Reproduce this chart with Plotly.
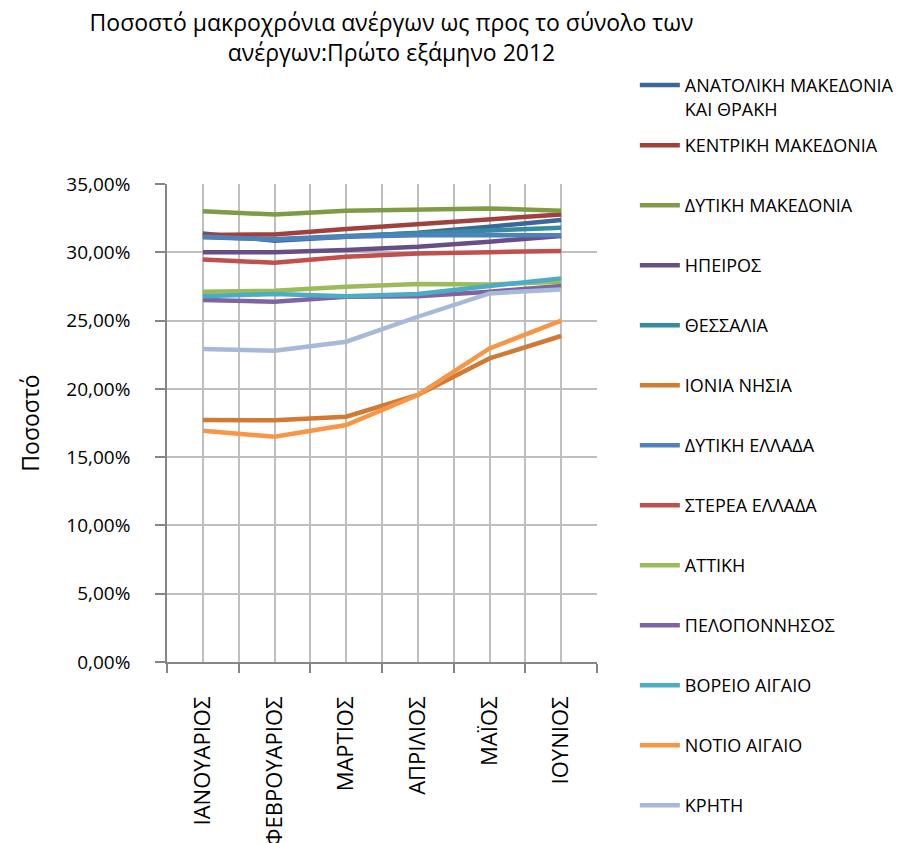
import plotly.graph_objects as go

months = ["ΙΑΝΟΥΑΡΙΟΣ", "ΦΕΒΡΟΥΑΡΙΟΣ", "ΜΑΡΤΙΟΣ", "ΑΠΡΙΛΙΟΣ", "ΜΑΪΟΣ", "ΙΟΥΝΙΟΣ"]

anatoliki_makedonia = [31.38, 30.85, 31.14, 31.43, 31.87, 32.36]
kentriki_makedonia = [31.26, 31.31, 31.70, 32.04, 32.40, 32.77]
dytiki_makedonia = [33.00, 32.77, 33.04, 33.16, 33.21, 33.04]
ipeiros = [30.00, 30.00, 30.16, 30.40, 30.77, 31.20]
thessalia = [31.10, 30.95, 31.20, 31.40, 31.60, 31.80]
ionia_nisia = [17.72, 17.70, 17.96, 19.55, 22.23, 23.87]
dytiki_ellada = [31.14, 30.94, 31.14, 31.24, 31.24, 31.24]
sterea_ellada = [29.48, 29.23, 29.67, 29.92, 30.01, 30.09]
attiki = [27.11, 27.18, 27.47, 27.67, 27.65, 27.84]
peloponnisos = [26.50, 26.38, 26.75, 26.79, 27.11, 27.53]
voreio_aigaio = [26.79, 26.94, 26.79, 26.94, 27.53, 28.09]
notio_aigaio = [16.93, 16.49, 17.35, 19.55, 22.96, 24.99]
kriti = [22.91, 22.79, 23.45, 25.28, 26.99, 27.28]

series_names = [
    "ΑΝΑΤΟΛΙΚΗ ΜΑΚΕΔΟΝΙΑ<br>ΚΑΙ ΘΡΑΚΗ", "ΚΕΝΤΡΙΚΗ ΜΑΚΕΔΟΝΙΑ", "ΔΥΤΙΚΗ ΜΑΚΕΔΟΝΙΑ",
    "ΗΠΕΙΡΟΣ", "ΘΕΣΣΑΛΙΑ", "ΙΟΝΙΑ ΝΗΣΙΑ", "ΔΥΤΙΚΗ ΕΛΛΑΔΑ", "ΣΤΕΡΕΑ ΕΛΛΑΔΑ",
    "ΑΤΤΙΚΗ", "ΠΕΛΟΠΟΝΝΗΣΟΣ", "ΒΟΡΕΙΟ ΑΙΓΑΙΟ", "ΝΟΤΙΟ ΑΙΓΑΙΟ", "ΚΡΗΤΗ",
]
series_values = [
    anatoliki_makedonia, kentriki_makedonia, dytiki_makedonia, ipeiros, thessalia,
    ionia_nisia, dytiki_ellada, sterea_ellada, attiki, peloponnisos,
    voreio_aigaio, notio_aigaio, kriti,
]
series_colors = [
    "#3C679A", "#A0413E", "#7F9B45", "#664F87", "#358CA1", "#CF7A35",
    "#4F81BD", "#C0504D", "#9BBB59", "#8064A2", "#4BACC6", "#F79646", "#A7B9D9",
]
# which legend box each series is listed in (legend split into stacked boxes)
series_legend = ["legend"] + ["legend2"] * 6 + ["legend3"] * 6

y_ticks = [0, 5, 10, 15, 20, 25, 30, 35]
y_tick_labels = ["0,00%", "5,00%", "10,00%", "15,00%", "20,00%", "25,00%", "30,00%", "35,00%"]

x_idx = list(range(len(months)))
boundaries = [i - 0.5 for i in range(len(months) + 1)]

fig = go.Figure()
for i, (name, vals, col, lg) in enumerate(zip(series_names, series_values, series_colors, series_legend)):
    fig.add_trace(go.Scatter(
        x=x_idx, y=vals, mode="lines", name=name,
        line=dict(color=col, width=4.5),
        legendgroup=f"g{i}", legend=lg,
    ))

font_family = "Open Sans, Noto Sans, DejaVu Sans, sans-serif"
grid_col = "#BFBFBF"
axis_col = "#868686"

legend_common = dict(
    x=1.088, xanchor="left", yanchor="top",
    font=dict(size=18, family=font_family, color="black"),
    traceorder="grouped", tracegroupgap=33.6, valign="top",
    itemwidth=40, bgcolor="rgba(0,0,0,0)",
)

fig.update_layout(
    width=899, height=835,
    margin=dict(l=159, r=310, t=176, b=181, autoexpand=False),
    paper_bgcolor="white", plot_bgcolor="white",
    font=dict(family=font_family, color="black"),
    title=dict(
        text="Ποσοστό μακροχρόνια ανέργων ως προς το σύνολο των<br>ανέργων:Πρώτο εξάμηνο 2012",
        x=0.4266, xref="container", xanchor="center",
        y=0.9725, yref="container", yanchor="top",
        font=dict(size=23, family=font_family, color="black"),
    ),
    legend=dict(legend_common, y=1.245),
    legend2=dict(legend_common, y=1.119),
    legend3=dict(legend_common, y=0.366),
    showlegend=True,
)

fig.update_xaxes(
    automargin=False,
    range=[-0.5, len(months) - 0.5],
    tickmode="array", tickvals=x_idx, ticktext=months,
    tickangle=-90, ticks="",
    showgrid=True, gridcolor=grid_col, gridwidth=1.5,
    showline=True, linecolor=axis_col, linewidth=1.5,
    zeroline=False,
    tickfont=dict(size=22, family=font_family, color="black"),
    ticklabelstandoff=24,
    minor=dict(tickmode="array", tickvals=boundaries, showgrid=True,
               gridcolor=grid_col, gridwidth=1.5,
               ticks="outside", ticklen=9, tickcolor=axis_col, tickwidth=1.5),
)
fig.update_yaxes(
    automargin=False,
    range=[0, 35],
    tickmode="array", tickvals=y_ticks, ticktext=y_tick_labels,
    ticks="outside", ticklen=10, tickcolor=axis_col, tickwidth=1.5,
    showgrid=True, gridcolor=grid_col, gridwidth=1.5,
    showline=True, linecolor=axis_col, linewidth=1.5,
    zeroline=False,
    tickfont=dict(size=19, family=font_family, color="black"),
    ticklabelstandoff=21,
    title=dict(text="Ποσοστό", font=dict(size=23, family=font_family, color="black"), standoff=20),
)

fig.write_html("out.html")
